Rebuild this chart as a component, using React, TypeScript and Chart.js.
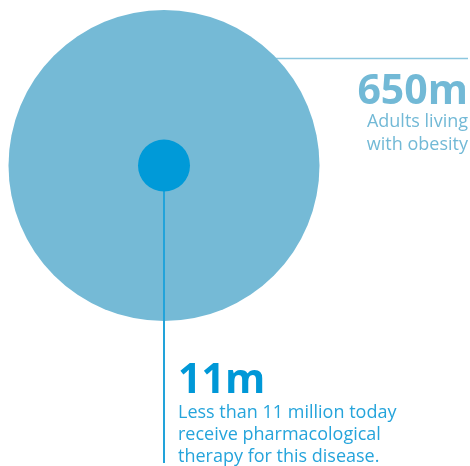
import React, { useEffect, useRef } from "react";
import { Chart, registerables } from "chart.js";

Chart.register(...registerables);

// ---- data ----
const categories = ["Adults living with obesity", "Receive pharmacological therapy"];
const valuesMillions = [650, 11];
const valueLabels = ["650m", "11m"];
const captionObesity = ["Adults living", "with obesity"];
const captionTherapy = ["Less than 11 million today", "receive pharmacological", "therapy for this disease."];

// ---- layout / style (pixel-like scale units) ----
const W = 470;
const H = 466;
const CENTER = { x: 164, y: 165.5 };
const BIG_R = 155.5;
const SMALL_R = 26;
const LEADER_Y = 58.5;
const LEADER_V_END = 463;

const BIG_COLOR = "#75BAD6";
const SMALL_COLOR = "#009AD8";
const LEADER_H_COLOR = "#8CC7DF";
const LEADER_V_COLOR = "#22A3DA";
const TEXT_650 = "#72B9D6";
const TEXT_11 = "#0098D7";
const CAPTION_11 = "#25A4DB";

const NUM_FONT = "bold 41px 'Open Sans', sans-serif";
const CAP_FONT = "18px 'Open Sans', sans-serif";

const textPlugin = {
  id: "annotText",
  afterDatasetsDraw(chart: any) {
    const ctx = chart.ctx;
    const xs = chart.scales.x;
    const ys = chart.scales.y;
    ctx.save();
    ctx.textBaseline = "alphabetic";
    // 650m block (right aligned)
    const rx = xs.getPixelForValue(468);
    ctx.textAlign = "right";
    ctx.fillStyle = TEXT_650;
    ctx.font = NUM_FONT;
    ctx.fillText(valueLabels[0], rx, ys.getPixelForValue(104));
    ctx.font = CAP_FONT;
    captionObesity.forEach((t, i) => ctx.fillText(t, rx, ys.getPixelForValue(126.5 + i * 23)));
    // 11m block (left aligned)
    const lx = xs.getPixelForValue(178);
    ctx.textAlign = "left";
    ctx.fillStyle = TEXT_11;
    ctx.font = NUM_FONT;
    ctx.fillText(valueLabels[1], lx, ys.getPixelForValue(393));
    ctx.fillStyle = CAPTION_11;
    ctx.font = CAP_FONT;
    captionTherapy.forEach((t, i) => ctx.fillText(t, lx, ys.getPixelForValue(418 + i * 22)));
    ctx.restore();
  },
};

export default function App() {
  const ref = useRef<HTMLCanvasElement | null>(null);
  useEffect(() => {
    document.body.style.margin = "0";
    const canvas = ref.current!;
    const chart = new Chart(canvas, {
      type: "scatter",
      data: {
        datasets: [
          {
            label: categories[1],
            data: [{ x: CENTER.x, y: CENTER.y, v: valuesMillions[1] } as any],
            pointRadius: SMALL_R,
            pointBackgroundColor: SMALL_COLOR,
            pointBorderWidth: 0,
            clip: false as any,
          },
          {
            label: "leader-v",
            type: "line",
            data: [
              { x: CENTER.x, y: CENTER.y },
              { x: CENTER.x, y: LEADER_V_END },
            ],
            borderColor: LEADER_V_COLOR,
            borderWidth: 2,
            pointRadius: 0,
            clip: false as any,
          } as any,
          {
            label: categories[0],
            data: [{ x: CENTER.x, y: CENTER.y, v: valuesMillions[0] } as any],
            pointRadius: BIG_R,
            pointBackgroundColor: BIG_COLOR,
            pointBorderWidth: 0,
            clip: false as any,
          },
          {
            label: "leader-h",
            type: "line",
            data: [
              { x: CENTER.x, y: LEADER_Y },
              { x: 468, y: LEADER_Y },
            ],
            borderColor: LEADER_H_COLOR,
            borderWidth: 1.5,
            pointRadius: 0,
            clip: false as any,
          } as any,
        ],
      },
      options: {
        animation: false,
        responsive: false,
        events: [],
        layout: { padding: 0, autoPadding: false },
        plugins: { legend: { display: false }, tooltip: { enabled: false } },
        scales: {
          x: { type: "linear", min: 0, max: W, display: false },
          y: { type: "linear", min: 0, max: H, reverse: true, display: false },
        },
      },
      plugins: [textPlugin],
    });
    return () => chart.destroy();
  }, []);
  return (
    <div style={{ width: W, height: H, background: "#fff" }}>
      <canvas ref={ref} width={W} height={H} />
    </div>
  );
}
